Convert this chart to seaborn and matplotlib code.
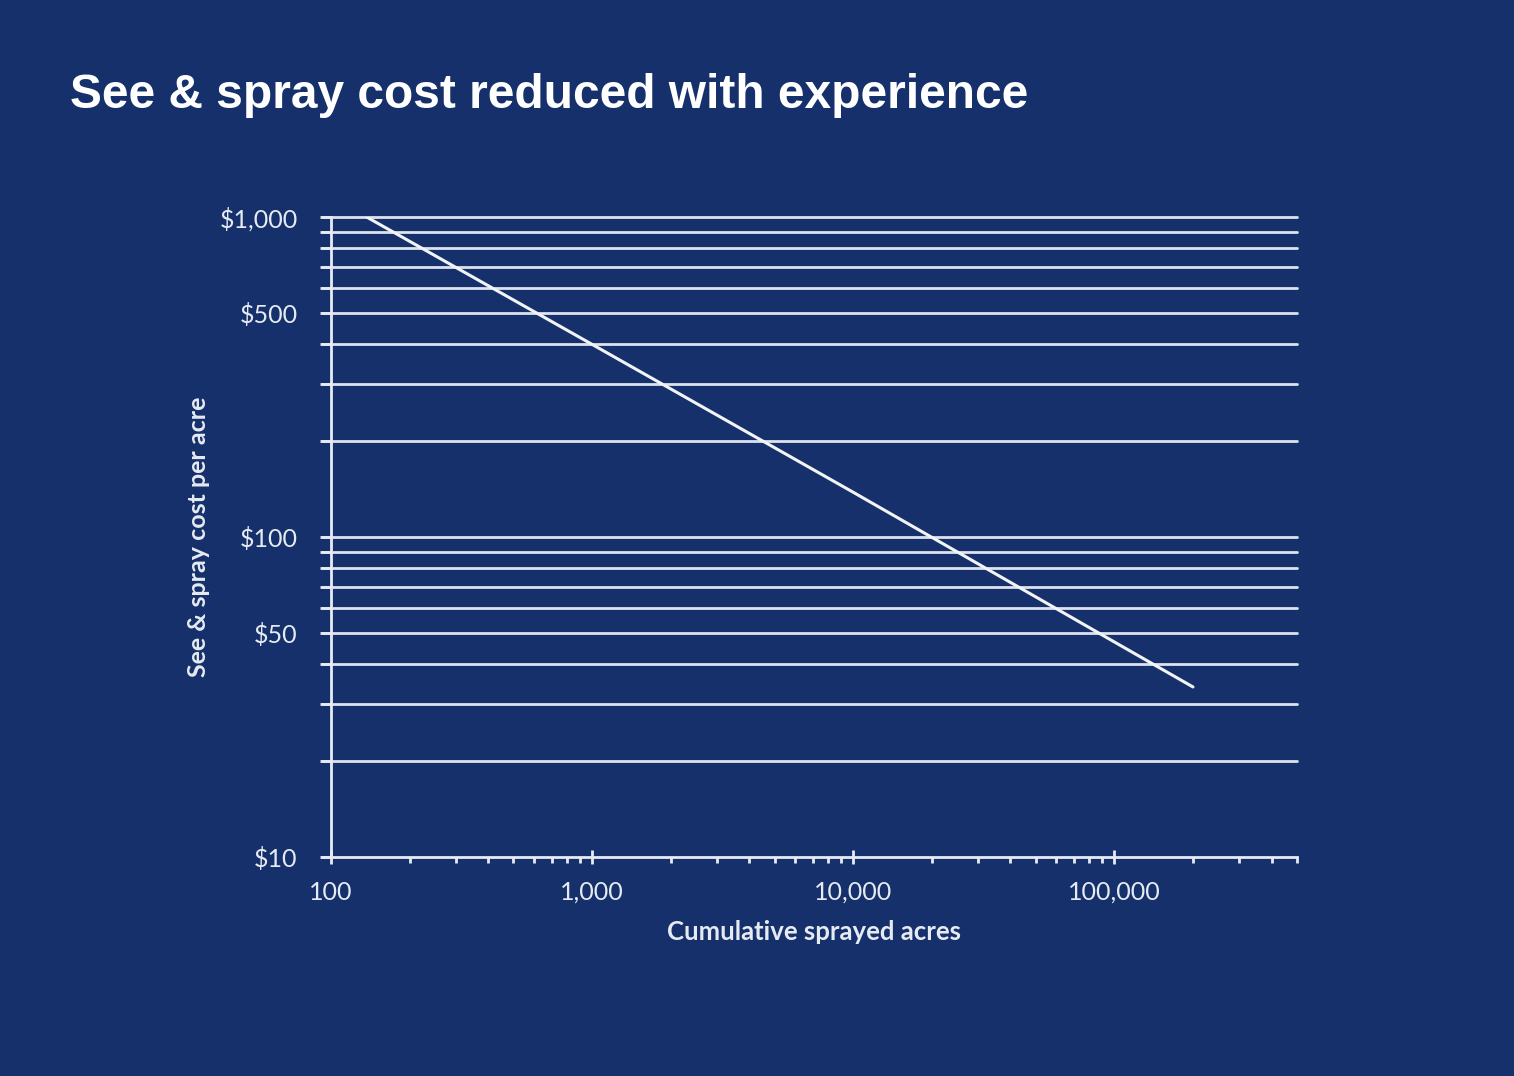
import numpy as np
import pandas as pd
import seaborn as sns
import matplotlib.pyplot as plt
from matplotlib.ticker import FixedLocator, FuncFormatter, NullFormatter

# values
acres = [137, 1000, 10000, 100000, 200000]
cost = [1000, 400, 138, 47, 34]

y_ticks = [10, 50, 100, 500, 1000]
y_labels = ["$10", "$50", "$100", "$500", "$1,000"]
x_ticks = [100, 1000, 10000, 100000]
x_labels = ["100", "1,000", "10,000", "100,000"]

BG = "#15306a"
FG = "#e6ebf3"


def main():
    df = pd.DataFrame({"acres": acres, "cost": cost})

    sns.set_theme(style="white")
    plt.rcParams["font.family"] = ["Lato", "DejaVu Sans"]

    fig = plt.figure(figsize=(15.14, 10.76), dpi=100, facecolor=BG)
    ax = fig.add_axes([0.2186, 0.2035, 0.638, 0.5948])
    ax.set_facecolor(BG)

    sns.lineplot(data=df, x="acres", y="cost", ax=ax, color="#f2f4f8", linewidth=2.2)

    ax.set_xscale("log")
    ax.set_yscale("log")
    ax.set_xlim(100, 500000)
    ax.set_ylim(10, 1000)

    # horizontal grid at every minor step
    grid_vals = [v * d for d in (10, 100) for v in range(1, 10)] + [1000]
    for g in grid_vals:
        if g > 10:
            ax.axhline(g, color="#dde3ee", linewidth=2, zorder=0,
                       xmin=-0.009, clip_on=False)

    ax.yaxis.set_major_locator(FixedLocator(y_ticks))
    ax.yaxis.set_major_formatter(FuncFormatter(lambda v, p: y_labels[y_ticks.index(v)] if v in y_ticks else ""))
    ax.yaxis.set_minor_locator(FixedLocator(grid_vals))
    ax.yaxis.set_minor_formatter(NullFormatter())

    ax.xaxis.set_major_locator(FixedLocator(x_ticks))
    ax.xaxis.set_major_formatter(FuncFormatter(lambda v, p: x_labels[x_ticks.index(v)] if v in x_ticks else ""))
    minor_x = [v * d for d in (100, 1000, 10000, 100000) for v in range(2, 10) if v * d <= 500000]
    ax.xaxis.set_minor_locator(FixedLocator(minor_x))
    ax.xaxis.set_minor_formatter(NullFormatter())

    ax.tick_params(axis="both", which="both", colors=FG, labelcolor=FG, labelsize=18)
    ax.tick_params(axis="y", which="both", direction="out", length=8, width=2, pad=16, left=True)
    ax.tick_params(axis="x", which="major", direction="inout", length=10, width=2, pad=12, bottom=True)
    ax.tick_params(axis="x", which="minor", direction="out", length=4, width=2, bottom=True)

    for side in ("top", "right"):
        ax.spines[side].set_visible(False)
    for side in ("left", "bottom"):
        ax.spines[side].set_color(FG)
        ax.spines[side].set_linewidth(2)
    ax.spines["bottom"].set_bounds(92, 500000)

    ax.set_xlabel("Cumulative sprayed acres", color=FG, fontsize=18.5, fontweight="bold", labelpad=12)
    ax.set_ylabel("See & spray cost per acre", color=FG, fontsize=18, fontweight="bold", labelpad=7)

    fig.text(0.046, 0.911, "See & spray cost reduced with experience", color="white",
             fontsize=34.5, fontweight="bold", family=["Liberation Sans", "DejaVu Sans"],
             ha="left", va="center")

    fig.savefig("out.png", facecolor=BG)
    plt.close(fig)


if __name__ == "__main__":
    main()
